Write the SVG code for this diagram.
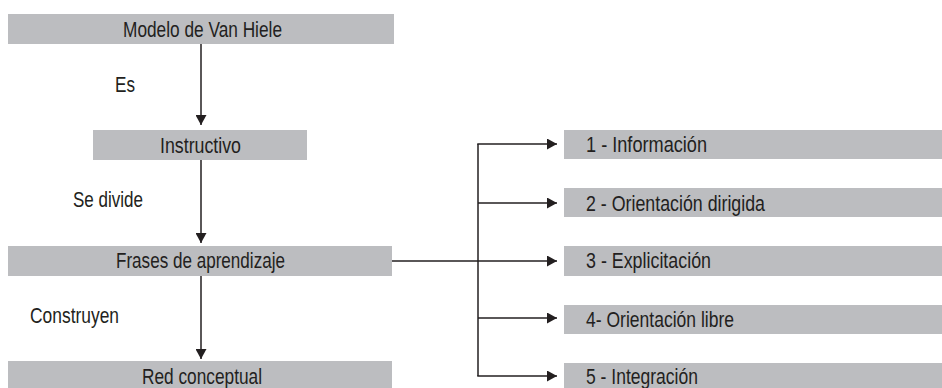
<svg xmlns="http://www.w3.org/2000/svg" width="942" height="388" viewBox="0 0 942 388">
<style>
.box{fill:#bcbdc0;}
.t{font-family:"Liberation Sans",Arial,sans-serif;font-size:22.5px;fill:#231f20;}
.ln{stroke:#231f20;stroke-width:1.5;fill:none;}
</style>
<defs>
<marker id="ah" markerUnits="userSpaceOnUse" markerWidth="10" markerHeight="11" refX="10" refY="5.5" orient="auto">
<path d="M0,0 L10,5.5 L0,11 z" fill="#231f20"/>
</marker>
</defs>
<rect width="942" height="388" fill="#ffffff"/>
<g id="connectors">
<line class="ln" x1="201" y1="44" x2="201" y2="125" marker-end="url(#ah)"/>
<line class="ln" x1="201" y1="160" x2="201" y2="243" marker-end="url(#ah)"/>
<line class="ln" x1="201" y1="276" x2="201" y2="359" marker-end="url(#ah)"/>
<line class="ln" x1="392" y1="261" x2="557" y2="261" marker-end="url(#ah)"/>
<line class="ln" x1="478" y1="144" x2="478" y2="376"/>
<line class="ln" x1="477.25" y1="144" x2="557" y2="144" marker-end="url(#ah)"/>
<line class="ln" x1="478" y1="203" x2="557" y2="203" marker-end="url(#ah)"/>
<line class="ln" x1="478" y1="318" x2="557" y2="318" marker-end="url(#ah)"/>
<line class="ln" x1="477.25" y1="376" x2="557" y2="376" marker-end="url(#ah)"/>
<text class="t" x="115" y="92" textLength="20" lengthAdjust="spacingAndGlyphs">Es</text>
<text class="t" x="73" y="207" textLength="70" lengthAdjust="spacingAndGlyphs">Se divide</text>
<text class="t" x="30" y="323" textLength="89" lengthAdjust="spacingAndGlyphs">Construyen</text>
</g>
<g id="modelo">
<rect class="box" x="8" y="14" width="386" height="30"/>
<text class="t" x="123" y="37" textLength="159" lengthAdjust="spacingAndGlyphs">Modelo de Van Hiele</text>
</g>
<g id="instructivo">
<rect class="box" x="93" y="130" width="214" height="30"/>
<text class="t" x="160" y="153" textLength="81" lengthAdjust="spacingAndGlyphs">Instructivo</text>
</g>
<g id="frases">
<rect class="box" x="8" y="246" width="384" height="30"/>
<text class="t" x="116" y="268" textLength="169" lengthAdjust="spacingAndGlyphs">Frases de aprendizaje</text>
</g>
<g id="red">
<rect class="box" x="8" y="361" width="384" height="27"/>
<text class="t" x="142" y="384" textLength="120" lengthAdjust="spacingAndGlyphs">Red conceptual</text>
</g>
<g id="fase1">
<rect class="box" x="564" y="130" width="378" height="29"/>
<text class="t" x="586" y="152" textLength="121" lengthAdjust="spacingAndGlyphs">1 - Información</text>
</g>
<g id="fase2">
<rect class="box" x="564" y="188" width="378" height="29"/>
<text class="t" x="586" y="211" textLength="179" lengthAdjust="spacingAndGlyphs">2 - Orientación dirigida</text>
</g>
<g id="fase3">
<rect class="box" x="564" y="246" width="378" height="30"/>
<text class="t" x="586" y="268" textLength="125" lengthAdjust="spacingAndGlyphs">3 - Explicitación</text>
</g>
<g id="fase4">
<rect class="box" x="564" y="305" width="378" height="29"/>
<text class="t" x="586" y="327" textLength="148" lengthAdjust="spacingAndGlyphs">4- Orientación libre</text>
</g>
<g id="fase5">
<rect class="box" x="564" y="363" width="378" height="25"/>
<text class="t" x="586" y="384" textLength="112" lengthAdjust="spacingAndGlyphs">5 - Integración</text>
</g>
</svg>
